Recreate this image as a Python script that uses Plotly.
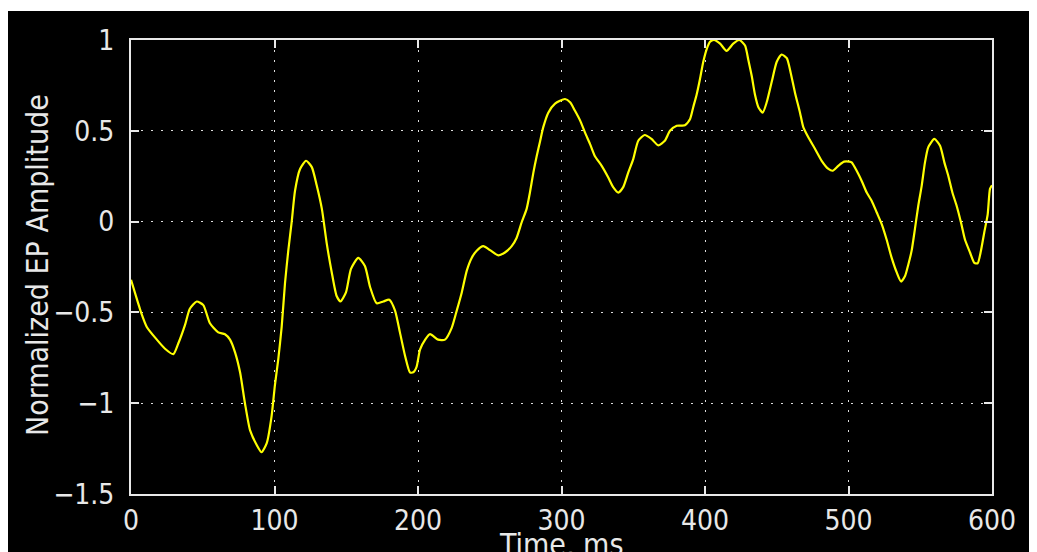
import plotly.graph_objects as go

time_ms = [0, 5, 7, 11, 18, 23.7, 29.5, 33, 37.6, 41, 45.8, 50.4, 55, 60.8, 65.5, 69, 72.5, 76, 79.4, 83,
           87.6, 91, 94.6, 98, 100.3, 102.6, 105, 107.3, 109.6, 112, 114.3, 117.8, 122, 126, 129.4, 133,
           136.4, 139.9, 143.3, 146, 149.8, 153.3, 158.4, 163, 166.6, 171.2, 175.8, 180, 184, 187.4, 191,
           194.4, 196.7, 199, 201.4, 205, 208.4, 214, 218.8, 223.5, 227, 230.5, 234, 237.4, 240.9, 245.5,
           250.2, 256, 260.6, 265.3, 268.7, 272.2, 275.7, 278, 280.4, 282.7, 285, 287.3, 290.8, 295.5,
           302.4, 306, 309.4, 313, 316.4, 319.9, 323.3, 328, 332.6, 336, 339.6, 343, 346.5, 350, 353.5,
           358, 362.7, 367.4, 372, 375.6, 380.3, 386, 389.6, 391.8, 394.2, 396.5, 398.8, 401.2, 403.5,
           406.3, 410.5, 415, 419.7, 423.9, 427.9, 430.2, 432.6, 434.8, 437.2, 440.2, 443, 446.5, 450,
           453.4, 457, 459.7, 462.7, 466.2, 468.5, 472, 476.7, 481.3, 486, 489, 492.9, 496.9, 500.6,
           502.2, 505.7, 509.2, 512.7, 516.2, 519.7, 523.2, 526.6, 530.1, 533.6, 536.6, 539.4, 541.7,
           544, 546.3, 548.6, 551, 553.3, 555.6, 559.8, 563.8, 566.8, 569.6, 572.4, 575.4, 578.4, 581.2,
           584.7, 587.7, 590, 592.3, 594.6, 597, 598.6, 600]
amplitude = [-0.32, -0.45, -0.50, -0.58, -0.65, -0.70, -0.73, -0.67, -0.57, -0.48, -0.44, -0.46, -0.56,
             -0.61, -0.62, -0.65, -0.72, -0.83, -1.00, -1.15, -1.23, -1.27, -1.22, -1.07, -0.90, -0.76,
             -0.58, -0.34, -0.16, 0.00, 0.17, 0.29, 0.335, 0.30, 0.20, 0.07, -0.12, -0.28, -0.41, -0.44,
             -0.39, -0.26, -0.20, -0.245, -0.36, -0.45, -0.44, -0.43, -0.49, -0.61, -0.74, -0.83, -0.83,
             -0.80, -0.705, -0.65, -0.62, -0.65, -0.65, -0.585, -0.49, -0.39, -0.27, -0.20, -0.16, -0.135,
             -0.157, -0.186, -0.17, -0.135, -0.09, -0.005, 0.07, 0.16, 0.27, 0.36, 0.44, 0.52, 0.60, 0.65,
             0.675, 0.657, 0.61, 0.556, 0.49, 0.427, 0.36, 0.307, 0.243, 0.19, 0.16, 0.19, 0.27, 0.344,
             0.445, 0.477, 0.455, 0.42, 0.445, 0.50, 0.528, 0.53, 0.565, 0.63, 0.70, 0.785, 0.88, 0.95,
             0.99, 1.00, 0.98, 0.94, 0.98, 1.00, 0.97, 0.89, 0.80, 0.70, 0.63, 0.60, 0.657, 0.77, 0.88,
             0.92, 0.90, 0.82, 0.71, 0.60, 0.52, 0.464, 0.40, 0.335, 0.29, 0.28, 0.307, 0.33, 0.33,
             0.326, 0.28, 0.224, 0.16, 0.114, 0.05, -0.015, -0.10, -0.20, -0.28, -0.33, -0.30, -0.236,
             -0.16, -0.04, 0.086, 0.197, 0.326, 0.41, 0.455, 0.418, 0.326, 0.25, 0.16, 0.086, -0.005,
             -0.10, -0.17, -0.227, -0.23, -0.16, -0.06, 0.04, 0.18, 0.20]

x_ticks = [0, 100, 200, 300, 400, 500, 600]
y_ticks = [-1.5, -1, -0.5, 0, 0.5, 1]
x_label = "Time, ms"
y_label = "Normalized EP Amplitude"

FONT = "Liberation Sans Narrow, DejaVu Sans Condensed, Arial Narrow, sans-serif"
FG = "#e8e8e8"

fig = go.Figure()
fig.add_trace(go.Scatter(x=time_ms, y=amplitude, mode="lines",
                         line=dict(color="#ffff00", width=2.2, shape="spline", smoothing=0.6),
                         showlegend=False, hoverinfo="skip"))

# figure sits at (8, 8) in the page because of the body margin
W, H = 1045, 544
L, R, T, B = 123, 61, 32, 58
pw, ph = W - L - R, H - T - B

axis_common = dict(showline=True, linecolor=FG, linewidth=2, mirror="ticks",
                   ticks="inside", ticklen=8, tickcolor=FG, tickwidth=2,
                   showgrid=True, gridcolor="#dcdcdc", gridwidth=1, griddash="2px,8px",
                   zeroline=False, tickfont=dict(family=FONT, size=28, color=FG))

fig.update_xaxes(range=[0, 600], tickvals=x_ticks, ticklabelstandoff=0, **axis_common)
fig.update_yaxes(range=[-1.5, 1], tickvals=y_ticks, ticklabelstandoff=9, **axis_common)

def px_x(p):
    return (p - L) / pw

def px_y(p):
    return (H - B - p) / ph

fig.update_layout(
    width=W, height=H,
    margin=dict(l=L, r=R, t=T, b=B, pad=0),
    paper_bgcolor="#000000", plot_bgcolor="#000000",
    shapes=[
        dict(type="rect", xref="paper", yref="paper", x0=px_x(-5), x1=px_x(W + 5), y0=px_y(3), y1=px_y(-5),
             fillcolor="#ffffff", line=dict(width=0), layer="above"),
    ],
    annotations=[
        dict(text=y_label, xref="paper", yref="paper", x=px_x(29), y=px_y(257), textangle=-90,
             showarrow=False, xanchor="center", yanchor="middle",
             font=dict(family=FONT, size=30, color=FG)),
        dict(text=x_label, xref="paper", yref="paper", x=px_x(553), y=px_y(520), showarrow=False,
             xanchor="center", yanchor="top", yshift=3,
             font=dict(family=FONT, size=30, color=FG)),
    ],
)

fig.write_html("out.html", post_script="document.body.style.overflow='hidden';")
